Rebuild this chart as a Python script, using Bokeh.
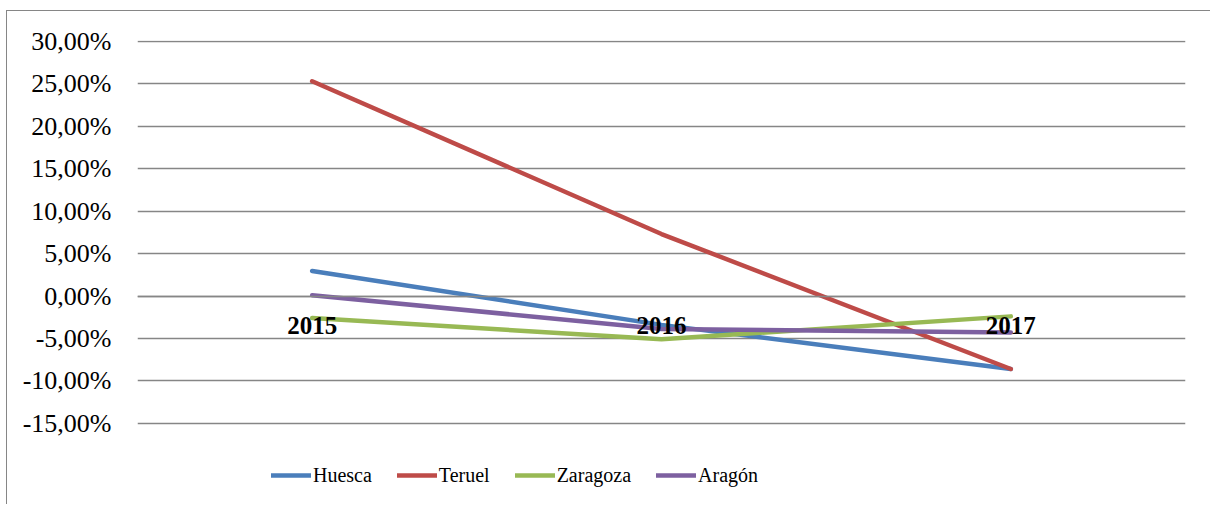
from bokeh.plotting import figure
from bokeh.models import FactorRange, Range1d, FixedTicker, Legend, LegendItem
from bokeh.embed import file_html
from bokeh.resources import INLINE

years = ["2015", "2016", "2017"]
huesca = [2.95, -3.4, -8.6]
teruel = [25.3, 7.3, -8.6]
zaragoza = [-2.6, -5.1, -2.4]
aragon = [0.1, -3.9, -4.3]
series_names = ["Huesca", "Teruel", "Zaragoza", "Aragón"]
series_colors = ["#4A7EBB", "#BE4B48", "#98B954", "#7D60A0"]
y_ticks = [-15, -10, -5, 0, 5, 10, 15, 20, 25, 30]
y_tick_labels = ["-15,00%", "-10,00%", "-5,00%", "0,00%", "5,00%", "10,00%",
                 "15,00%", "20,00%", "25,00%", "30,00%"]

FONT = "'Liberation Serif', 'Times New Roman', serif"
GRID = "#868686"

# the frame reaches the bottom edge so that the legend below the last gridline is not clipped
p = figure(width=1204, height=494, output_backend="svg", toolbar_location=None,
           x_range=FactorRange(*years, range_padding=0),
           y_range=Range1d(-24.68, 30.1),
           min_border_left=130, min_border_right=26, min_border_top=29,
           min_border_bottom=0)
p.outline_line_color = None
p.background_fill_color = "white"
p.border_fill_color = "white"
p.styles = {"margin-left": "6px", "margin-top": "10px",
            "border-left": "1.5px solid #868686", "border-top": "1.5px solid #868686"}

# y axis
p.yaxis.ticker = FixedTicker(ticks=y_ticks)
p.yaxis.major_label_overrides = {t: l for t, l in zip(y_ticks, y_tick_labels)}
p.yaxis.axis_line_color = None
p.yaxis.major_tick_line_color = None
p.yaxis.minor_tick_line_color = None
p.yaxis.major_tick_out = 0
p.yaxis.major_label_standoff = 26
p.yaxis.major_label_text_font = FONT
p.yaxis.major_label_text_font_size = "26px"
p.yaxis.major_label_text_font_style = "normal"
p.yaxis.major_label_text_color = "black"

p.ygrid.ticker = FixedTicker(ticks=y_ticks)
p.ygrid.grid_line_color = GRID
p.ygrid.grid_line_width = 1.5
p.xgrid.visible = False

# x axis crossing at 0
p.xaxis.fixed_location = 0
p.xaxis.axis_line_color = GRID
p.xaxis.axis_line_width = 1.5
p.xaxis.major_tick_line_color = None
p.xaxis.major_tick_out = 0
p.xaxis.major_tick_in = 0
p.xaxis.major_label_standoff = 21
p.xaxis.major_label_text_font = FONT
p.xaxis.major_label_text_font_size = "25px"
p.xaxis.major_label_text_font_style = "bold"
p.xaxis.major_label_text_color = "black"

items = []
for name, vals, col in zip(series_names, [huesca, teruel, zaragoza, aragon], series_colors):
    r = p.line(years, vals, line_color=col, line_width=4.5, line_cap="round", line_join="round")
    items.append(LegendItem(label=name, renderers=[r]))

legend = Legend(items=items, orientation="horizontal", location=(134, 18),
                padding=0, margin=0, spacing=25, label_standoff=2,
                glyph_width=40, glyph_height=24, label_height=24,
                label_text_font=FONT, label_text_font_size="20px",
                label_text_font_style="normal",
                label_text_color="black", border_line_alpha=0,
                background_fill_alpha=0)
p.add_layout(legend, "center")

open("out.html", "w").write(file_html(p, INLINE))
